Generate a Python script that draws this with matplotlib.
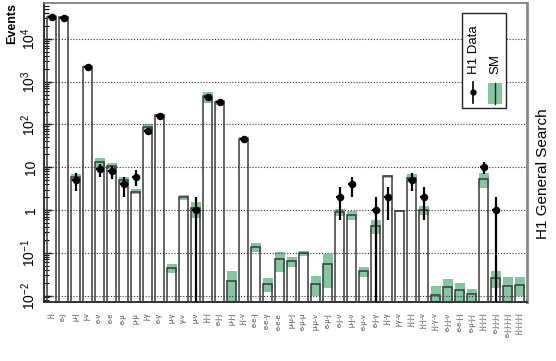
import numpy as np
import matplotlib
matplotlib.use("Agg")
import matplotlib.pyplot as plt
from matplotlib.patches import Rectangle
from matplotlib.lines import Line2D

plt.rcParams['font.family'] = ['Liberation Sans', 'DejaVu Sans']
plt.rcParams['mathtext.fontset'] = 'custom'
plt.rcParams['mathtext.rm'] = 'Liberation Sans'
plt.rcParams['mathtext.it'] = 'Liberation Sans:italic'
plt.rcParams['mathtext.bf'] = 'Liberation Sans:bold'

classes = ["j-j", "e-j", "μ-j", "j-ν", "e-ν", "e-e", "e-μ", "μ-μ", "j-γ", "e-γ",
           "μ-γ", "γ-ν", "μ-ν", "j-j-j", "e-j-j", "μ-j-j", "j-j-ν", "e-e-j", "e-e-γ", "e-e-e",
           "μ-μ-j", "e-μ-μ", "μ-μ-ν", "e-μ-j", "e-j-ν", "μ-j-ν", "e-μ-ν", "e-j-γ", "j-j-γ", "j-γ-ν",
           "j-j-j-j", "j-j-j-ν", "j-j-γ-ν", "e-j-j-ν", "e-e-j-j", "e-μ-j-j", "j-j-j-j-j", "e-j-j-j-j",
           "e-j-j-j-j-j", "j-j-j-j-j-j"]

sm = [33000, 32000, 5.8, 2250, 13, 10.8, 4.9, 2.7, 85, 165,
      0.044, 2.0, 1.1, 450, 330, 0.022, 46, 0.135, 0.019, 0.07,
      0.064, 0.098, 0.019, 0.054, 0.9, 0.76, 0.037, 0.43, 6.1, 0.97,
      5.6, 1.0, 0.0105, 0.016, 0.0135, 0.011, 5.2, 0.026, 0.017, 0.018]

sm_err = [3500, 2500, 1.0, 200, 3, 1.5, 1.0, 0.4, 15, 15,
          0.011, 0.25, 0.45, 130, 40, 0.015, 5, 0.03, 0.007, 0.035,
          0.017, 0.012, 0.009, 0.039, 0.17, 0.17, 0.01, 0.16, 0.5, 0.05,
          1.3, 0.25, 0.006, 0.0085, 0.006, 0.0035, 2.0, 0.011, 0.01, 0.0085]

data = [32000, 31000, 5, 2240, 9, 8, 4, 6, 70, 160,
        None, None, 1, 445, 326, None, 46, None, None, None,
        None, None, None, None, 2, 4, None, 1, 2, None,
        5, 2, None, None, None, None, 10, 1, None, None]

W, H = 556, 361
fig = plt.figure(figsize=(W / 100, H / 100), dpi=100)
L, R, T, B = 44, 527, 3, 302
ax = fig.add_axes([L / W, 1 - B / H, (R - L) / W, (B - T) / H])
ax.set_yscale('log')

x = np.arange(len(classes))
sm_a = np.array(sm, float)
err_a = np.array(sm_err, float)

ylo = 0.00705
# SM uncertainty band
ax.bar(x, 2 * err_a, bottom=np.maximum(sm_a - err_a, 1e-6), width=0.82,
       color='#82c7a2', edgecolor='none', zorder=2)
# SM bars (outlines)
ax.bar(x, sm_a - 1e-5, bottom=1e-5, width=0.72, facecolor='none',
       edgecolor='#3a3a3a', linewidth=1.1, zorder=3)

# Data
dx, dy, dlo, dhi = [], [], [], []
for i, n in enumerate(data):
    if n is None:
        continue
    e = np.sqrt(n)
    dx.append(i)
    dy.append(n)
    dlo.append(min(e, n - 1e-6))
    dhi.append(e)
ax.errorbar(dx, dy, yerr=[dlo, dhi], xerr=0.28, fmt='o', color='black',
            markersize=4.4, elinewidth=1.6, capsize=0, zorder=5)

ax.set_xlim(-0.64, 39.6)
ax.set_ylim(ylo, 6.9e4)

# grid
for k in range(-2, 5):
    ax.axhline(10.0 ** k, color='#333333', linestyle=(0, (1, 1.6)), linewidth=0.8, zorder=4)

ax.set_yticks([1e-2, 1e-1, 1, 10, 1e2, 1e3, 1e4])
ax.set_yticklabels([r'$10^{-2}$', r'$10^{-1}$', '1', '10', r'$10^{2}$', r'$10^{3}$', r'$10^{4}$'],
                   rotation=90, va='center', fontsize=10)
ax.tick_params(axis='y', which='major', direction='in', length=6, width=1.0, pad=4)
ax.tick_params(axis='y', which='minor', direction='in', length=3.5, width=0.8)
ax.set_xticks(x)
ax.set_xticklabels(classes, rotation=90, fontsize=5.2, color='#444444', va='top')
ax.tick_params(axis='x', length=0, pad=8)
ax.tick_params(axis='x', which='minor', length=0)

for s in ['left', 'bottom']:
    ax.spines[s].set_color('#222222')
    ax.spines[s].set_linewidth(1.3)
ax.spines['top'].set_color('#777777')
ax.spines['top'].set_linewidth(1.2)
ax.spines['right'].set_color('#888888')
ax.spines['right'].set_linewidth(2.0)

def fx(px):
    return px / W

def fy(py):
    return 1 - py / H

fig.text(fx(12), fy(3), 'Events', rotation=90, ha='center', va='top',
         fontsize=9, fontweight='bold')
fig.text(fx(543), fy(174), 'H1 General Search', rotation=90, ha='center', va='center',
         fontsize=11)

# legend (manual)
fig.patches.append(Rectangle((fx(462), fy(108)), fx(506) - fx(462), fy(13) - fy(108),
                             transform=fig.transFigure, facecolor='white',
                             edgecolor='#222222', linewidth=1.0, zorder=10))
fig.text(fx(474), fy(74), 'H1 Data', rotation=90, ha='center', va='bottom',
         fontsize=9.5, zorder=11)
fig.text(fx(495), fy(74), 'SM', rotation=90, ha='center', va='bottom',
         fontsize=9.5, zorder=11)
fig.lines.append(Line2D([fx(473), fx(473)], [fy(103), fy(82)], transform=fig.transFigure,
                        color='black', linewidth=1.2, zorder=11))
fig.lines.append(Line2D([fx(473)], [fy(92)], transform=fig.transFigure, marker='o',
                        markersize=3.5, color='black', zorder=12))
fig.patches.append(Rectangle((fx(488), fy(104)), fx(502) - fx(488), fy(83) - fy(104),
                             transform=fig.transFigure, facecolor='#82c7a2',
                             edgecolor='none', zorder=11))
fig.lines.append(Line2D([fx(495), fx(495)], [fy(104), fy(83)], transform=fig.transFigure,
                        color='#222222', linewidth=1.0, zorder=12))

fig.savefig('out.png', dpi=100)
